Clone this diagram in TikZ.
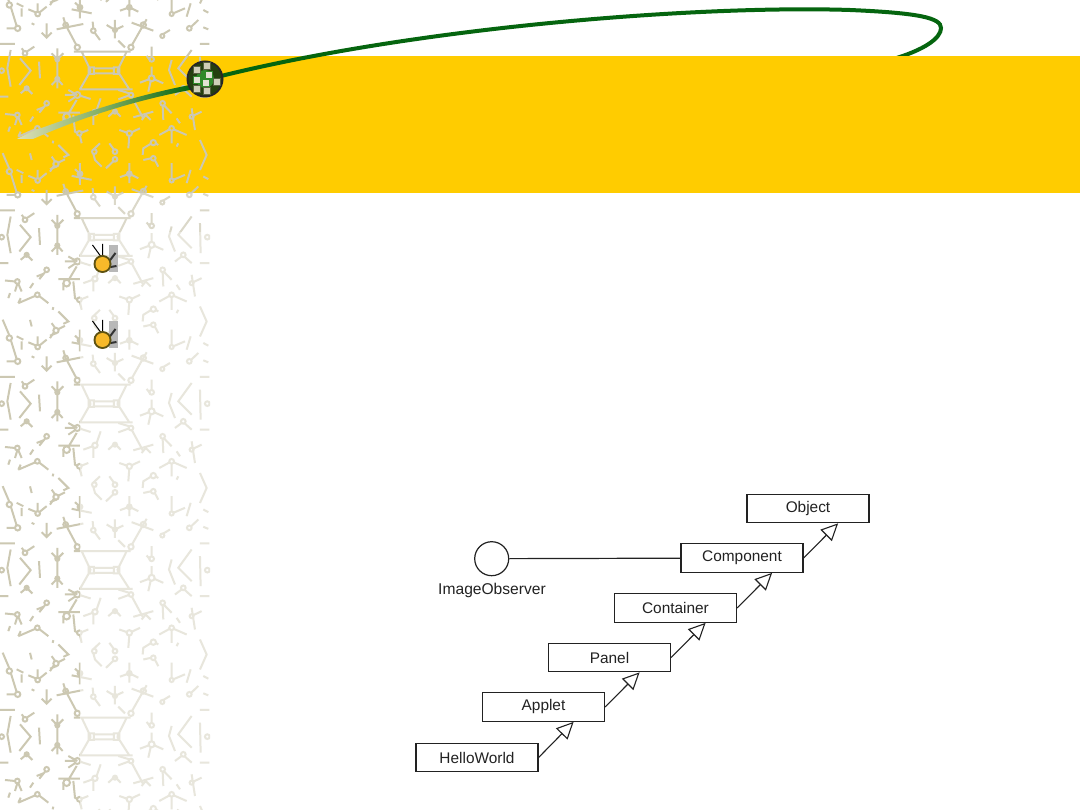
\documentclass[tikz,border=0pt]{standalone}
\usepackage{fontspec}
\setmainfont{Liberation Sans}
\usetikzlibrary{arrows.meta}

\definecolor{wallcolor}{HTML}{CCC8B2}
\definecolor{inkcolor}{HTML}{222222}
\definecolor{swoosh}{HTML}{05650F}
\definecolor{swooshmid}{HTML}{7FAE62}
\definecolor{swooshtail}{HTML}{DEE0B8}
\definecolor{bannercolor}{HTML}{FFCC00}
\definecolor{studgrey}{HTML}{CFCFB8}
\definecolor{studdark}{HTML}{55603F}
\definecolor{medalgreen}{HTML}{25400F}
\definecolor{medalglow}{HTML}{2F8A2A}
\definecolor{bulletrim}{HTML}{5E5212}
\definecolor{bulletyellow}{HTML}{F7B92A}

% one tile of the wallpaper, 645 x 500 units
\newcommand{\wallstrokes}{%
    \draw (28,15) circle (8) (53,85) circle (8) (113,42) circle (7) (280,92) circle (7)
          (345,90) circle (6) (430,75) circle (8) (515,42) circle (6) (568,85) circle (7)
          (232,142) circle (8) (393,142) circle (8) (75,160) circle (7) (5,212) circle (7)
          (622,212) circle (7) (172,178) circle (6) (172,237) circle (6) (455,178) circle (7)
          (455,235) circle (9) (80,265) circle (6) (232,285) circle (9) (393,285) circle (7)
          (550,265) circle (7) (140,310) circle (7) (488,310) circle (7) (52,345) circle (7)
          (200,350) circle (10) (285,337) circle (8) (345,335) circle (6) (575,350) circle (6)
          (112,385) circle (7) (238,400) circle (7) (388,400) circle (8) (515,385) circle (7)
          (240,22) circle (7) (388,22) circle (7) (197,75) circle (7) (283,455) circle (7)
          (345,455) circle (7) (345,478) circle (7) (460,428) circle (8) (460,475) circle (7)
          (168,492) circle (8);
    \draw (8,-40) -- (28,7) (33,23) -- (50,78) (20,85) -- (45,85) (50,10) -- (70,20) (65,25) -- (65,50);
    \draw (85,28) -- (107,37) (119,37) -- (140,20) (113,35) -- (113,10) (95,70) -- (103,74);
    \draw (140,70) -- (140,112) (125,98) -- (140,113) -- (155,98) (150,8) -- (170,0);
    \draw (240,-10) -- (240,55) (215,28) -- (275,40) (225,8) -- (240,22);
    \draw (170,88) -- (250,72) (190,52) -- (197,75) -- (229,135);
    \draw (278,65) -- (280,85) (284,98) -- (300,120);
    \draw (320,75) -- (345,90) -- (370,78) (345,60) -- (345,115);
    \draw (395,68) -- (460,92) (440,58) -- (430,75) -- (396,135) (355,122) -- (375,142);
    \draw (360,32) -- (388,22) -- (415,35) (388,-10) -- (388,50);
    \draw (515,-10) -- (515,36) (520,40) -- (555,25) (572,10) -- (560,50);
    \draw (574,80) -- (595,60) (610,30) -- (625,38) (610,82) -- (625,88);
    \draw (487,108) circle (6) (490,102) -- (510,90) (0,132) -- (45,132) (600,132) -- (628,132);
    % trapezoid
    \draw (222,155) -- (392,155) (245,155) -- (272,212) (380,155) -- (352,212)
          (272,212) -- (240,268) (352,212) -- (388,268) (238,268) -- (398,268)
          (266,202) rectangle (282,222) (342,202) rectangle (358,222)
          (282,205) -- (342,205) (282,220) -- (342,220);
    \draw (65,145) -- (72,154) (80,155) -- (103,140);
    \draw (32,150) -- (22,205) -- (32,260) (60,175) -- (92,212) -- (58,255) (117,185) -- (120,235);
    \draw (172,145) -- (172,265) (155,160) -- (172,178) -- (190,160) (155,255) -- (172,237) -- (188,255);
    \draw (62,280) -- (80,265) -- (97,282) (0,290) -- (25,290) (600,290) -- (628,290);
    \draw (195,285) -- (224,285) (205,270) -- (232,285) (205,305) -- (226,291) (240,287) -- (272,297);
    \draw (355,270) -- (388,280) (355,298) -- (385,287) (396,292) -- (430,355) (302,295) -- (290,330);
    \draw (455,140) -- (455,171) (440,168) -- (450,180) (420,248) -- (447,238) (455,200) -- (455,226)
          (463,238) -- (490,250) (452,244) -- (445,275);
    \draw (515,180) -- (507,210) -- (525,255) (575,150) -- (535,205) -- (575,245) (600,170) -- (602,260);
    \draw (525,285) -- (545,270) (554,271) -- (575,290);
    \draw (136,316) -- (118,338) (110,330) -- (130,322) (52,352) -- (45,375) (15,342) -- (45,345) (55,352) -- (65,375);
    \draw (100,350) -- (90,365) (175,338) -- (240,338) (205,342) -- (230,300) (190,350) -- (190,372)
          (220,345) -- (225,395) -- (234,400);
    \draw (250,350) -- (278,340) (280,344) -- (280,375);
    \draw (325,350) -- (345,332) -- (362,350) (488,317) -- (490,360) (492,316) -- (515,340);
    \draw (575,325) -- (585,390) (580,347) -- (605,335) (530,355) -- (540,370);
    \draw (425,360) -- (437,345) -- (452,360) (400,352) -- (460,335);
    \draw (55,410) -- (106,388) (118,389) -- (145,410) (62,395) -- (55,410) (30,380) -- (25,395);
    \draw (245,398) -- (265,390) (240,407) -- (245,430);
    \draw (358,390) -- (381,398) (395,397) -- (420,385) (388,408) -- (385,445);
    \draw (478,405) -- (509,388) (521,388) -- (560,405) (515,392) -- (515,430);
    \draw (600,420) -- (620,465) -- (600,510);
    \draw (175,435) -- (205,465) -- (190,472) (160,422) -- (158,430) (90,460) -- (95,480);
    \draw (150,515) -- (162,497) (175,488) -- (195,478) (165,484) -- (155,470);
    \draw (300,430) -- (280,449) (280,461) -- (285,480) -- (305,500) (328,430) -- (342,449) (340,484) -- (318,505);
    \draw (428,465) -- (430,445) -- (453,431) (467,430) -- (475,435) (430,480) -- (453,475) (465,481) -- (475,500);
    \draw (535,430) -- (530,440);
}

\begin{document}
\begin{tikzpicture}[x=1pt,y=-1pt,
        wall/.style={draw=wallcolor,line width=2pt},
        classbox/.style={draw=inkcolor,line width=1.2pt,minimum width=122pt,minimum height=28.5pt,
            inner sep=0pt,text=inkcolor,font=\fontsize{15.4}{18}\selectfont},
        classlabel/.style={inner sep=0pt,text=inkcolor,font=\fontsize{15.6}{18}\selectfont},
        lollipop/.style={draw=inkcolor,line width=1.2pt,circle,minimum size=34pt,inner sep=0pt},
        extends/.style={draw=inkcolor,line width=1.1pt,-{Triangle[open,length=17pt,width=16pt,fill=white]}},
        stud/.style={fill=studgrey,draw=studdark,line width=1pt,minimum size=7pt,inner sep=0pt},
        bulletmark/.pic={
            \fill[black!28] (6,-19) rectangle (15.5,8);
            \draw[black,line width=1pt] (-10,-19) -- (-2,-8) (0,-20) -- (0,-8);
            \draw[black!80,line width=2pt] (13,-11) -- (7,-3) (8,3) -- (14,2);
            \fill[bulletrim] (0,0) circle (9);
            \fill[bulletyellow] (0,0) circle (7);
        }]

    \useasboundingbox (0,0) rectangle (1080,810);
    \fill[white] (0,0) rectangle (1080,810);
    \fill[bannercolor] (0,56) rectangle (1080,193);

    % wallpaper strip
    \begin{scope}
        \clip (0,0) rectangle (210,810);
        \foreach \row in {-1,...,4} {
            \begin{scope}[yshift=-\row*166.5pt,x=.3333pt,y=-.3333pt,every path/.style={wall}]
                \wallstrokes
            \end{scope}
        }
    \end{scope}
    \fill[white,opacity=.3] (80,193) rectangle (215,232);
    \fill[white,opacity=.55] (80,232) rectangle (215,810);

    % swoosh
    \begin{scope}
        \clip (0,0) rectangle (1080,56) (0,56) rectangle (500,193);
        \draw[swoosh,line width=4pt] (190,84) .. controls (400,27) and (700,5) .. (850,10)
            .. controls (920,13) and (941,18) .. (941,28)
            .. controls (941,38) and (925,50) .. (890,60);
    \end{scope}
    \shade[left color=swooshtail,right color=swoosh,middle color=swooshmid]
        (17,139) -- (33,131) .. controls (83,113) and (133,96) .. (190,85)
        -- (190,90) .. controls (133,101) and (83,117) .. (33,139) -- cycle;

    % medallion
    \fill[black!85] (205,79) circle (18.5);
    \fill[medalgreen] (205,79) circle (16.5);
    \fill[medalglow] (205,79) circle (9);
    \foreach \x/\y in {197/70,207/66,217/82,197/89,207/91}
        \node[stud] at (\x,\y) {};
    \foreach \x/\y in {209/75,197/80,206/83}
        \node[stud,fill=studgrey!60,draw=medalglow] at (\x,\y) {};

    \pic at (102.5,264) {bulletmark};
    \pic at (102.5,340) {bulletmark};

    % class hierarchy
    \node[classbox] (object)    at (808,508.5) {Object};
    \node[classbox] (component) at (742,558)   {Component};
    \node[classbox] (container) at (675.5,608) {Container};
    \node[classbox] (panel)     at (609.5,657.5) {Panel};
    \node[classbox] (applet)    at (543.5,707) {Applet};
    \node[classbox] (hello)     at (477,757.5) {HelloWorld};
    \node[lollipop] (observer)  at (491.7,558.7) {};
    \node[classlabel] (observerlabel) at (492,590) {ImageObserver};

    \draw[inkcolor,line width=1.2pt] (observer) -- (component);
    \foreach \a/\b in {hello/applet,applet/panel,panel/container,container/component,component/object}
        \draw[extends] (\a.east) -- ([xshift=-31.5pt]\b.south east);
\end{tikzpicture}
\end{document}
